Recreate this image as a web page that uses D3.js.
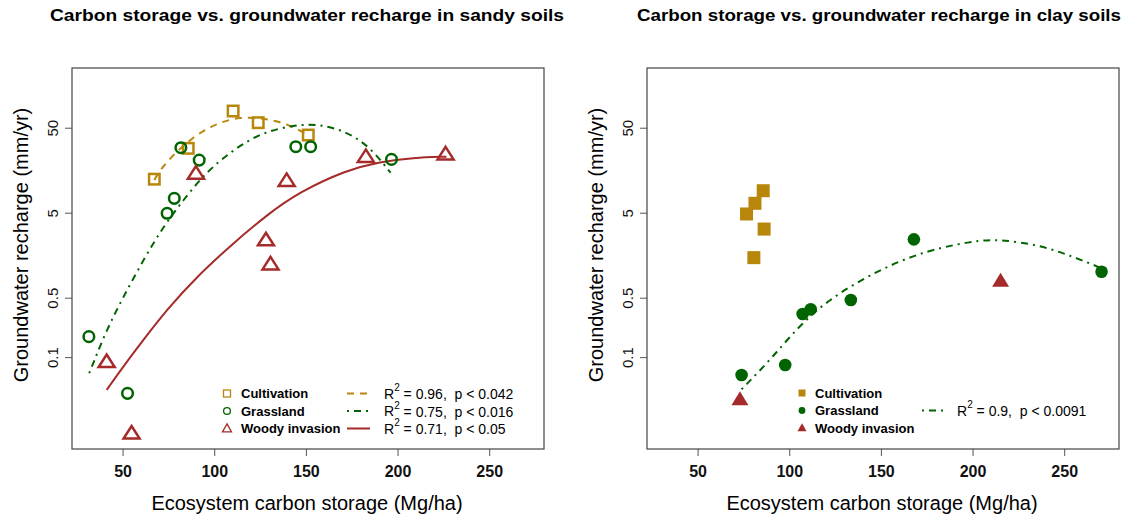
<!DOCTYPE html>
<html>
<head>
<meta charset="utf-8">
<script src="https://cdn.jsdelivr.net/npm/d3@7"></script>
<style>
  html, body { margin: 0; padding: 0; background: #fff; }
  svg { display: block; font-family: "Liberation Sans", Arial, sans-serif; }
</style>
</head>
<body>
<svg id="chart" width="1136" height="519"></svg>
<script>
// ---- axis ticks ----
const xTicks = [50, 100, 150, 200, 250];
const yTicks = [0.1, 0.5, 5, 50];
const xDomain = [22.4, 279.9];
const yDomain = [0.0083, 252];

// ---- sandy soils ----
const sandyCultCarbon = [67.3, 85.8, 110.3, 124.0, 151.3];
const sandyCultRecharge = [12.4, 28.6, 78.6, 57.3, 41.0];
const sandyGrassCarbon = [31.6, 52.7, 74.3, 78.2, 81.8, 91.8, 144.5, 152.6, 196.7];
const sandyGrassRecharge = [0.174, 0.0375, 4.92, 7.38, 29.1, 20.8, 29.9, 29.9, 21.2];
const sandyWoodyCarbon = [41.3, 54.9, 90.0, 128.2, 130.7, 139.5, 182.7, 226.2];
const sandyWoodyRecharge = [0.0883, 0.0127, 14.5, 2.39, 1.24, 11.9, 22.8, 24.4];

// fitted curves (sandy)
const sandyCultFitCarbon = [67.3, 70.4, 77.6, 88.5, 101.3, 114.0, 128.6, 141.3, 151.3];
const sandyCultFitRecharge = [12.1, 15.9, 23.9, 39.2, 56.4, 67.3, 64.5, 53.8, 41.0];
const sandyGrassFitCarbon = [31.8, 40.4, 49.5, 61.3, 72.2, 83.1, 95.8, 110.3, 124.9, 143.1, 157.6, 172.2, 184.9, 196.2];
const sandyGrassFitRecharge = [0.0646, 0.19, 0.47, 1.39, 3.42, 7.05, 15.2, 27.3, 43.0, 53.8, 55.3, 44.9, 29.9, 14.8];
const sandyWoodyFitCarbon = [41.3, 50.3, 61.3, 74.0, 90.4, 110.3, 128.6, 146.7, 172.2, 190.4, 208.5, 226.7];
const sandyWoodyFitRecharge = [0.041, 0.077, 0.159, 0.358, 0.883, 2.18, 4.70, 8.83, 15.9, 19.9, 22.2, 22.8];

// ---- clay soils ----
const clayCultCarbon = [76.7, 81.3, 85.8, 86.3, 80.7];
const clayCultRecharge = [4.83, 6.45, 9.07, 3.21, 1.48];
const clayGrassCarbon = [74.0, 97.8, 107.3, 111.7, 133.6, 168.0, 270.4];
const clayGrassRecharge = [0.0616, 0.0807, 0.321, 0.365, 0.47, 2.43, 1.01];
const clayWoodyCarbon = [73.1, 215.3];
const clayWoodyRecharge = [0.0319, 0.79];
const clayGrassFitCarbon = [74.0, 91.3, 109.5, 133.1, 167.6, 200.3, 214.9, 236.7, 254.9, 270.4];
const clayGrassFitRecharge = [0.0418, 0.101, 0.299, 0.705, 1.66, 2.34, 2.43, 2.08, 1.52, 1.11];

// ---- labels ----
const groupNames = ["Cultivation", "Grassland", "Woody invasion"];
const sandyFitStats = [["0.96", "0.042"], ["0.75", "0.016"], ["0.71", "0.05"]];
const clayFitStats = [["0.9", "0.0091"]];

const colCult = "#B8860B", colGrass = "#006400", colWoody = "#A52A2A";

const svg = d3.select("#chart");
svg.append("rect").attr("width", 1136).attr("height", 519).attr("fill", "#fff");

const zip = (a, b) => a.map((v, i) => [v, b[i]]);

function trianglePath(w, h) {
  return `M0,${-h * 0.58}L${w / 2},${h * 0.42}L${-w / 2},${h * 0.42}Z`;
}

function drawMarker(g, kind, filled, x, y, small) {
  const col = kind === 0 ? colCult : kind === 1 ? colGrass : colWoody;
  const sw = small ? 1.3 : 2.5;
  let el;
  if (kind === 0) {
    const s = small ? 7 : (filled ? 13 : 10.5);
    el = g.append("rect").attr("x", x - s / 2).attr("y", y - s / 2).attr("width", s).attr("height", s);
  } else if (kind === 1) {
    const r = small ? 3.4 : (filled ? 6.3 : 5.3);
    el = g.append("circle").attr("cx", x).attr("cy", y).attr("r", r);
  } else {
    const w = small ? 9 : (filled ? 17 : 16), h = small ? 8 : (filled ? 14 : 12.5);
    el = g.append("path").attr("d", trianglePath(w, h)).attr("transform", `translate(${x},${y})`);
  }
  if (filled) el.attr("fill", col).attr("stroke", "none");
  else el.attr("fill", "none").attr("stroke", col).attr("stroke-width", sw);
}

const lineStyles = [
  { color: colCult, dash: "7,6" },
  { color: colGrass, dash: "2,5,7,5" },
  { color: colWoody, dash: null }
];

function panel(opts) {
  const x = d3.scaleLinear().domain(xDomain).range([opts.left, opts.right]);
  const y = d3.scaleLog().domain(yDomain).range([449, 68]);
  const g = svg.append("g");

  // title
  g.append("text")
    .attr("x", opts.titleX).attr("y", 21)
    .attr("text-anchor", "middle")
    .attr("font-size", 16).attr("font-weight", "bold")
    .attr("textLength", opts.titleLen).attr("lengthAdjust", "spacingAndGlyphs")
    .text(opts.title);

  // axes
  const xAxis = d3.axisBottom(x).tickValues(xTicks).tickSize(7).tickPadding(4).tickFormat(d3.format("d"));
  const gx = g.append("g").attr("transform", "translate(0,449)").call(xAxis);
  gx.select(".domain").remove();
  gx.selectAll(".tick line").attr("stroke", "#555");
  gx.selectAll(".tick text").attr("font-size", 16).attr("font-weight", "bold")
    .attr("font-family", "Liberation Sans, Arial, sans-serif").attr("fill", "#111")
    .attr("y", 17).attr("dy", "0.71em").attr("transform", null)
    .each(function () { d3.select(this).attr("y", 17).attr("dy", "0.7em"); });

  const yAxis = d3.axisLeft(y).tickValues(yTicks).tickSize(7).tickFormat(d => String(d));
  const gy = g.append("g").attr("transform", `translate(${opts.left},0)`).call(yAxis);
  gy.select(".domain").remove();
  gy.selectAll(".tick line").attr("stroke", "#555");
  gy.selectAll(".tick text")
    .attr("font-size", 15).attr("font-family", "Liberation Sans, Arial, sans-serif").attr("fill", "#111")
    .attr("x", null).attr("dy", null)
    .attr("text-anchor", "middle")
    .attr("transform", `translate(${-(opts.left - opts.tickBase)},0) rotate(-90)`);

  // frame
  g.append("rect").attr("x", opts.left).attr("y", 68)
    .attr("width", opts.right - opts.left).attr("height", 449 - 68)
    .attr("fill", "none").attr("stroke", "#444").attr("stroke-width", 1.2);

  // axis titles
  g.append("text")
    .attr("x", (opts.left + opts.right) / 2 - 1).attr("y", 509.5)
    .attr("text-anchor", "middle").attr("font-size", 20)
    .text("Ecosystem carbon storage (Mg/ha)");
  g.append("text")
    .attr("transform", `translate(${opts.ylabX},245) rotate(-90)`)
    .attr("text-anchor", "middle").attr("font-size", 20)
    .text("Groundwater recharge (mm/yr)");

  // fit curves
  const line = d3.line().x(d => x(d[0])).y(d => y(d[1])).curve(d3.curveBasis);
  opts.fits.forEach(f => {
    const st = lineStyles[f.kind];
    g.append("path").datum(zip(f.cx, f.cy))
      .attr("d", line).attr("fill", "none")
      .attr("stroke", st.color).attr("stroke-width", 2)
      .attr("stroke-dasharray", st.dash);
  });

  // points
  opts.groups.forEach(p => {
    zip(p.cx, p.cy).forEach(d => drawMarker(g, p.kind, opts.filled, x(d[0]), y(d[1]), false));
  });

  // legend: groups
  const L = opts.legend;
  groupNames.forEach((name, i) => {
    const ry = L.rows[i];
    drawMarker(g, i, opts.filled, L.symX, ry, true);
    g.append("text").attr("x", L.textX).attr("y", ry).attr("dy", "0.36em")
      .attr("font-size", 13).attr("font-weight", "bold").text(name);
  });
  // legend: fits
  opts.stats.forEach((s, j) => {
    const ry = L.rows[s.row];
    const st = lineStyles[s.kind];
    g.append("line").attr("x1", L.lineX0).attr("x2", L.lineX1).attr("y1", ry).attr("y2", ry)
      .attr("stroke", st.color).attr("stroke-width", 2).attr("stroke-dasharray", st.dash);
    const t = g.append("text").attr("x", L.statX).attr("y", ry).attr("dy", "0.38em").attr("font-size", 14);
    t.append("tspan").text("R");
    t.append("tspan").attr("font-size", 10).attr("dy", "-0.75em").text("2");
    t.append("tspan").attr("dy", "0.55em").text(` = ${s.r2},\u00a0\u00a0p < ${s.p}`);
  });
}

panel({
  left: 72, right: 544, titleX: 307, titleLen: 514, tickBase: 58, ylabX: 28,
  title: "Carbon storage vs. groundwater recharge in sandy soils",
  filled: false,
  groups: [
    { kind: 0, cx: sandyCultCarbon, cy: sandyCultRecharge },
    { kind: 1, cx: sandyGrassCarbon, cy: sandyGrassRecharge },
    { kind: 2, cx: sandyWoodyCarbon, cy: sandyWoodyRecharge }
  ],
  fits: [
    { kind: 0, cx: sandyCultFitCarbon, cy: sandyCultFitRecharge },
    { kind: 1, cx: sandyGrassFitCarbon, cy: sandyGrassFitRecharge },
    { kind: 2, cx: sandyWoodyFitCarbon, cy: sandyWoodyFitRecharge }
  ],
  legend: { symX: 227, textX: 241, rows: [393.5, 411, 428.5], lineX0: 347, lineX1: 370, statX: 384 },
  stats: sandyFitStats.map((s, i) => ({ row: i, kind: i, r2: s[0], p: s[1] }))
});

panel({
  left: 647, right: 1119, titleX: 879, titleLen: 484, tickBase: 633, ylabX: 603,
  title: "Carbon storage vs. groundwater recharge in clay soils",
  filled: true,
  groups: [
    { kind: 0, cx: clayCultCarbon, cy: clayCultRecharge },
    { kind: 1, cx: clayGrassCarbon, cy: clayGrassRecharge },
    { kind: 2, cx: clayWoodyCarbon, cy: clayWoodyRecharge }
  ],
  fits: [
    { kind: 1, cx: clayGrassFitCarbon, cy: clayGrassFitRecharge }
  ],
  legend: { symX: 802, textX: 815, rows: [393, 410.5, 428], lineX0: 922, lineX1: 943, statX: 957 },
  stats: clayFitStats.map(s => ({ row: 1, kind: 1, r2: s[0], p: s[1] }))
});
</script>
</body>
</html>
